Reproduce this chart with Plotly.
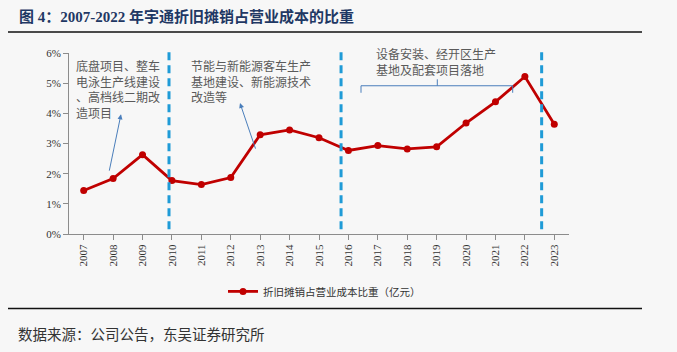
import plotly.graph_objects as go

# ---------------- data ----------------
years = ["2007", "2008", "2009", "2010", "2011", "2012", "2013", "2014", "2015",
         "2016", "2017", "2018", "2019", "2020", "2021", "2022", "2023"]
ratio_pct = [1.44, 1.84, 2.63, 1.77, 1.64, 1.87, 3.29, 3.45, 3.19,
             2.77, 2.93, 2.82, 2.89, 3.68, 4.38, 5.22, 3.64]
series_name = "折旧摊销占营业成本比重（亿元）"
yticks = [0, 1, 2, 3, 4, 5, 6]
ytick_text = ["0%", "1%", "2%", "3%", "4%", "5%", "6%"]
# phase divider positions (in "year" units, fractional)
dividers = [2009.90, 2015.75, 2022.57]

title_text = "<b>图 4：2007-2022 年宇通折旧摊销占营业成本的比重</b>"
source_text = "数据来源：公司公告，东吴证券研究所"
note1 = "底盘项目、整车<br>电泳生产线建设<br>、高档线二期改<br>造项目"
note2 = "节能与新能源客车生产<br>基地建设、新能源技术<br>改造等"
note3 = "设备安装、经开区生产<br>基地及配套项目落地"

# ---------------- layout geometry ----------------
W, H = 677, 352
L, R = 69, 569          # plot area x pixels
T, B = 53, 233.7        # plot area y pixels
BG = "#f7f7f7"


def px(xp):
    return (xp - L) / (R - L)


def py(yp):
    return (B - yp) / (B - T)


def yr(v):
    return v - int(years[0])


fig = go.Figure()
fig.add_trace(go.Scatter(
    x=list(range(len(years))), y=ratio_pct, mode="lines+markers",
    name=series_name,
    line=dict(color="#c00000", width=2.8),
    marker=dict(color="#c00000", size=7),
))

shapes = []
for d in dividers:
    shapes.append(dict(type="line", xref="x", yref="paper",
                       x0=yr(d), x1=yr(d), y0=py(229), y1=py(48),
                       line=dict(color="#1f9bd7", width=3, dash="8px,5px")))

# bracket over 2016-2021
bx0, bx1, bxm = px(361), px(512.7), px(437.3)
by, byd, byu = py(85.7), py(92.7), py(79.3)
shapes.append(dict(type="path", xref="paper", yref="paper",
                   path=f"M {bx0},{byd} L {bx0},{by} L {bx1},{by} L {bx1},{byd} "
                        f"M {bxm},{by} L {bxm},{byu}",
                   line=dict(color="#4a7ebb", width=1)))
# header / footer rules
shapes.append(dict(type="line", xref="paper", yref="paper",
                   x0=px(8), x1=px(642), y0=py(32), y1=py(32),
                   line=dict(color="#111111", width=1.5)))
shapes.append(dict(type="line", xref="paper", yref="paper",
                   x0=px(8), x1=px(642), y0=py(308), y1=py(308),
                   line=dict(color="#111111", width=1.5)))

note_font = dict(family="Noto Sans CJK SC", size=12, color="#5a5a5a")
annotations = [
    dict(text=title_text, xref="paper", yref="paper", x=px(17), y=py(17),
         xanchor="left", yanchor="middle", showarrow=False,
         font=dict(family="Liberation Serif, Noto Sans CJK SC", size=15, color="#1f3864")),
    dict(text=source_text, xref="paper", yref="paper", x=px(16), y=py(333),
         xanchor="left", yanchor="middle", showarrow=False,
         font=dict(family="Noto Sans CJK SC", size=14.5, color="#333333")),
    dict(text=note1, xref="paper", yref="paper", x=px(74), y=py(89),
         xanchor="left", yanchor="middle", align="left", showarrow=False, font=note_font),
    dict(text=note2, xref="paper", yref="paper", x=px(189), y=py(81.4),
         xanchor="left", yanchor="middle", align="left", showarrow=False, font=note_font),
    dict(text=note3, xref="paper", yref="paper", x=px(374), y=py(61),
         xanchor="left", yanchor="middle", align="left", showarrow=False, font=note_font),
    # arrows
    dict(text="", xref="x", yref="y", axref="x", ayref="y",
         x=1.268, y=3.97, ax=0.86, ay=2.05, showarrow=True,
         arrowhead=2, arrowsize=1, arrowwidth=1, arrowcolor="#4a7ebb"),
    dict(text="", xref="x", yref="y", axref="x", ayref="y",
         x=5.314, y=4.34, ax=5.858, ay=2.78, showarrow=True,
         arrowhead=2, arrowsize=1, arrowwidth=1, arrowcolor="#4a7ebb"),
]

fig.update_layout(
    width=W, height=H,
    margin=dict(l=L, r=W - R, t=T, b=H - B, pad=0),
    paper_bgcolor=BG, plot_bgcolor=BG,
    shapes=shapes, annotations=annotations,
    showlegend=True,
    legend=dict(orientation="h", x=px(223), y=py(291), xanchor="left", yanchor="middle",
                bgcolor="rgba(0,0,0,0)", itemwidth=30,
                font=dict(family="Noto Sans CJK SC", size=10.5, color="#333333")),
    xaxis=dict(
        tickmode="array", tickvals=list(range(len(years))), ticktext=years,
        range=[-0.5, len(years) - 0.5],
        showgrid=False, zeroline=False,
        showline=True, linecolor="#8c8c8c", linewidth=1,
        ticks="outside", ticklen=5, tickcolor="#8c8c8c",
        tickangle=-90,
        tickfont=dict(family="Liberation Serif", size=11, color="#333333"),
    ),
    yaxis=dict(
        range=[0, 6], tickvals=yticks, ticktext=ytick_text,
        showgrid=False, zeroline=False,
        showline=True, linecolor="#8c8c8c", linewidth=1,
        ticks="outside", ticklen=5, tickcolor="#8c8c8c",
        tickfont=dict(family="Liberation Serif", size=11, color="#333333"),
    ),
)

fig.write_html("out.html")
